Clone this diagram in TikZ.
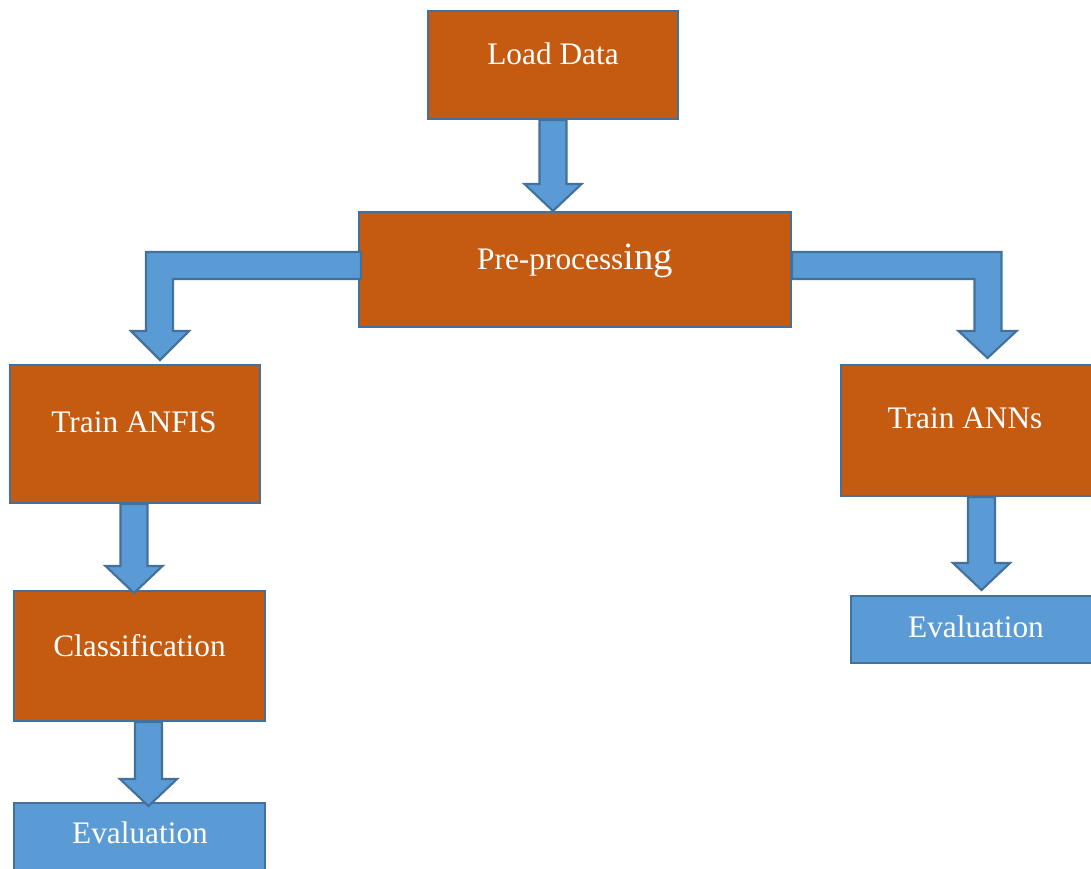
\documentclass[tikz,border=0pt]{standalone}
\usepackage{fontspec}
\setmainfont{Liberation Serif}
\usetikzlibrary{fit,calc}
\definecolor{boxorange}{HTML}{C55A11}
\definecolor{boxblue}{HTML}{5B9BD5}
\definecolor{edgeblue}{HTML}{41719C}
\tikzset{
  stage/.style={draw=edgeblue, fill=boxorange, line width=1.6pt, inner sep=0pt},
  result/.style={draw=edgeblue, fill=boxblue, line width=1.6pt, inner sep=0pt},
  caption/.style={text=white, inner sep=0pt, anchor=base, font=\fontsize{23.5}{28}\selectfont},
  blockarrow/.style={draw=edgeblue, fill=boxblue, line width=1.6pt, line join=miter},
}
% downward block arrow: centre x (px), start anchor, tip anchor
\newcommand\downblock[3]{%
  \draw[blockarrow] let \p1=(#2), \p2=(#3) in
    ({(#1-13.5)*0.75pt},\y1) -- ({(#1-13.5)*0.75pt},{\y2+27*0.75pt})
    -- ({(#1-28.5)*0.75pt},{\y2+27*0.75pt}) -- ({#1*0.75pt},\y2)
    -- ({(#1+28.5)*0.75pt},{\y2+27*0.75pt}) -- ({(#1+13.5)*0.75pt},{\y2+27*0.75pt})
    -- ({(#1+13.5)*0.75pt},\y1) -- cycle;}
\begin{document}
\begin{tikzpicture}[x=0.75pt,y=-0.75pt]
\clip (0,0) rectangle (1091,868);
\fill[white] (0,0) rectangle (1091,868);

% process boxes
\node[stage, fit={(428,11) (678,119)}] (load) {};
\node[stage, fit={(359,212) (791,327)}] (pre) {};
\node[stage, fit={(10,365) (260,503)}] (anfis) {};
\node[stage, fit={(14,591) (265,721)}] (cls) {};
\node[result, fit={(14,803) (265,895)}] (evalL) {};
\node[stage, fit={(841,365) (1110,496)}] (anns) {};
\node[result, fit={(851,596) (1110,663)}] (evalR) {};

% captions
\node[caption] (tload) at (553,64) {Load Data};
\node[caption] (tpre) at (575,269) {Pre-process{\fontsize{29}{32}\selectfont ing}};
\node[caption] (tanfis) at (134,432) {Train ANFIS};
\node[caption] (tanns) at (965,428) {Train ANNs};
\node[caption] (tcls) at (139.5,656) {Classification};
\node[caption] (tevalL) at (140,843) {Evaluation};
\node[caption] (tevalR) at (976,637) {Evaluation};

% straight block arrows
\coordinate (tipPre) at (553,211);
\coordinate (tipCls) at (134,593);
\coordinate (tipEvalL) at (149,806);
\coordinate (tipEvalR) at (981,590);
\downblock{553}{load.south}{tipPre}
\downblock{134}{anfis.south}{tipCls}
\downblock{148.5}{cls.south}{tipEvalL}
\downblock{981.5}{anns.south}{tipEvalR}

% bent block arrows out of the pre-processing box
\coordinate (tipAnfis) at (160,360);
\coordinate (tipAnns) at (987.5,358);
\draw[blockarrow] let \p1=(pre.west), \p2=(tipAnfis) in
  ({\x1+3*0.75pt},{-252*0.75pt}) -- ({\x2-14*0.75pt},{-252*0.75pt})
  -- ({\x2-14*0.75pt},{\y2+29*0.75pt}) -- ({\x2-29*0.75pt},{\y2+29*0.75pt})
  -- (\x2,\y2) -- ({\x2+29*0.75pt},{\y2+29*0.75pt})
  -- ({\x2+13*0.75pt},{\y2+29*0.75pt}) -- ({\x2+13*0.75pt},{-279*0.75pt})
  -- ({\x1+3*0.75pt},{-279*0.75pt}) -- cycle;
\draw[blockarrow] let \p1=(pre.east), \p2=(tipAnns) in
  ({\x1},{-252*0.75pt}) -- ({\x2+14*0.75pt},{-252*0.75pt})
  -- ({\x2+14*0.75pt},{\y2+27*0.75pt}) -- ({\x2+29*0.75pt},{\y2+27*0.75pt})
  -- (\x2,\y2) -- ({\x2-29*0.75pt},{\y2+27*0.75pt})
  -- ({\x2-13*0.75pt},{\y2+27*0.75pt}) -- ({\x2-13*0.75pt},{-279*0.75pt})
  -- ({\x1},{-279*0.75pt}) -- cycle;
\end{tikzpicture}
\end{document}
